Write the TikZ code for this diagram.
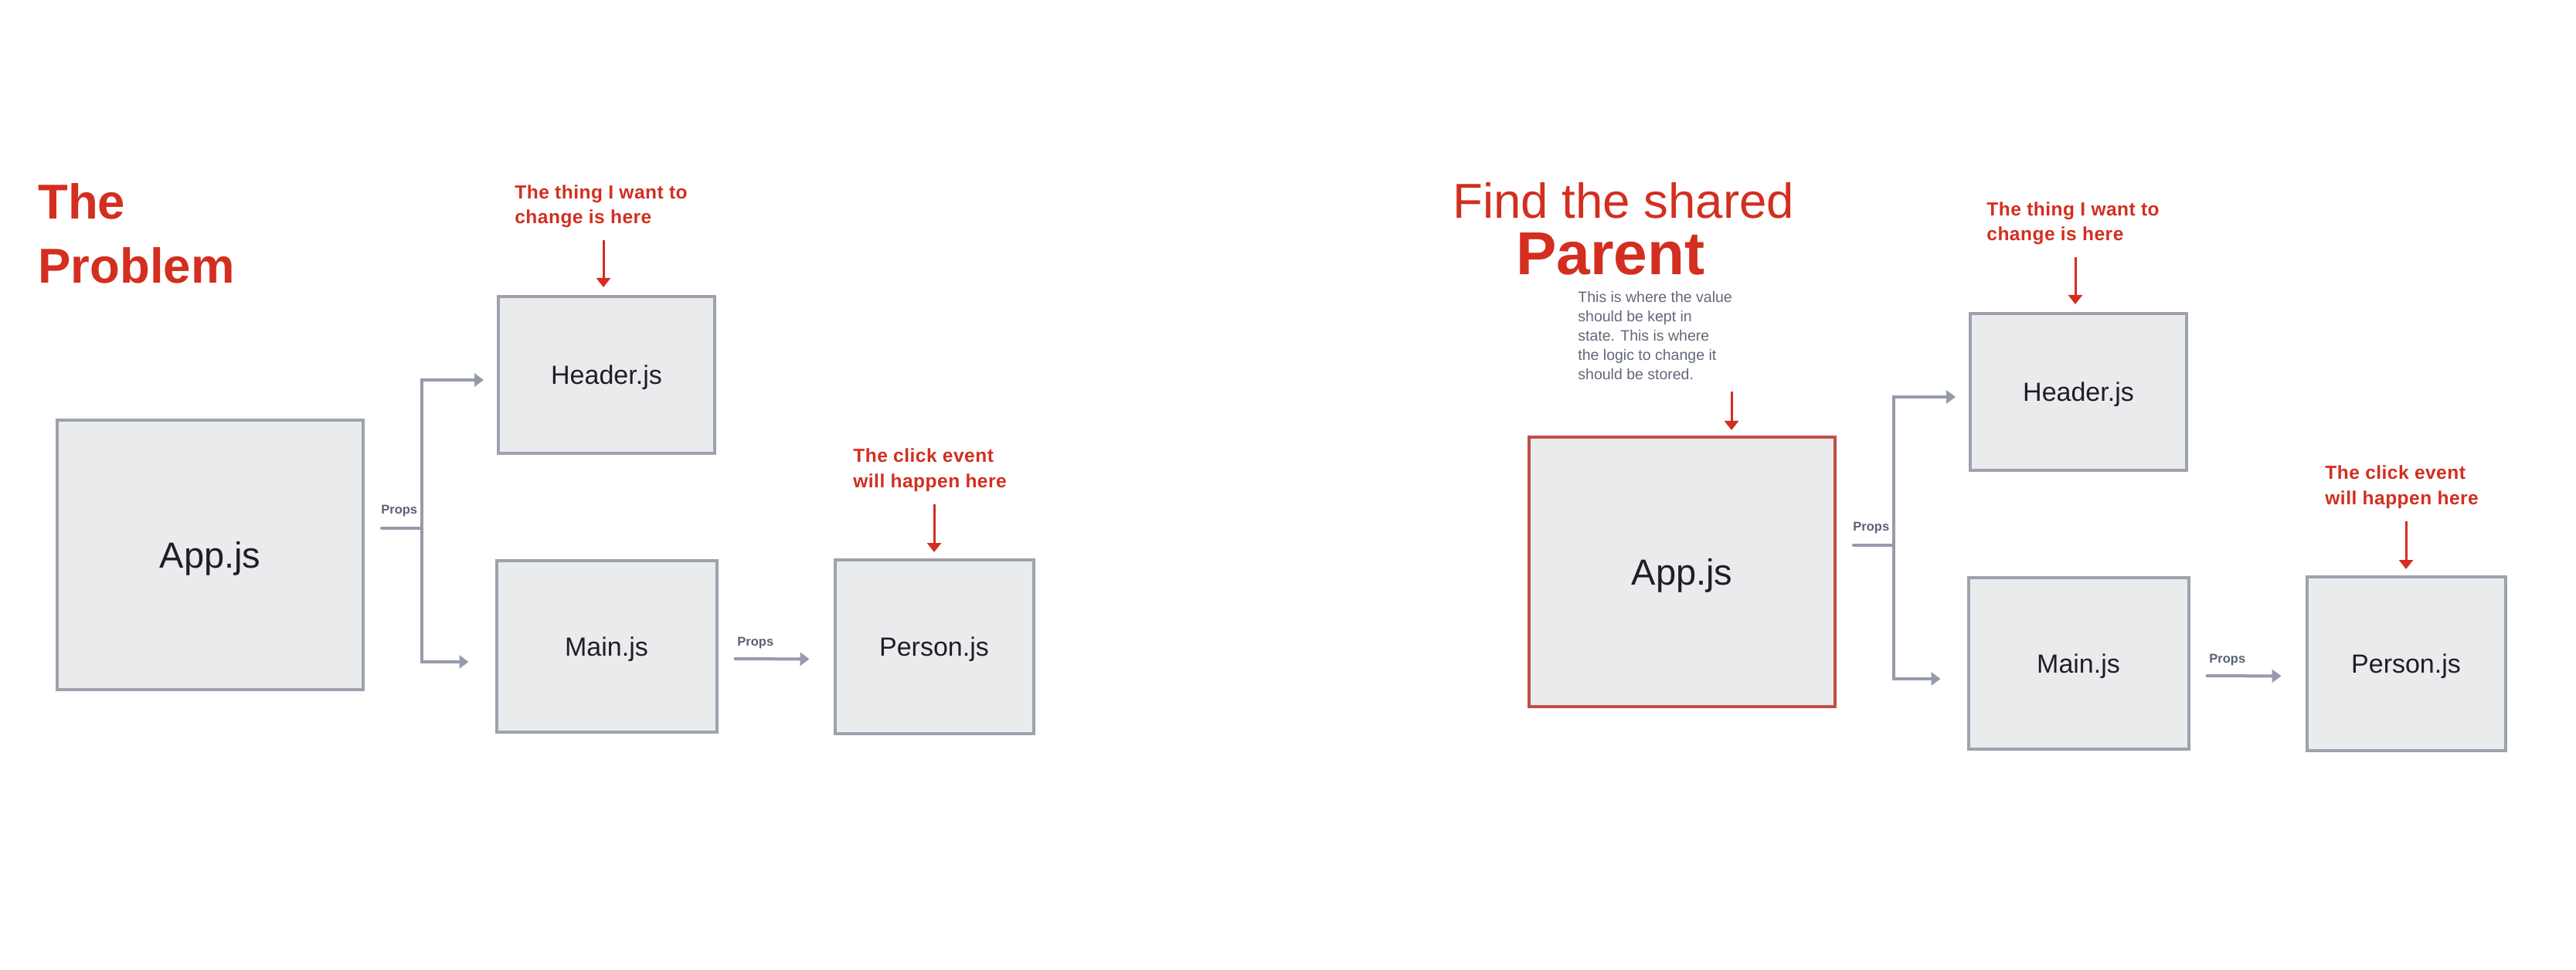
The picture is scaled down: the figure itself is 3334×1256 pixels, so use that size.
\documentclass[tikz,border=0pt]{standalone}
\usepackage{fontspec}
\setmainfont{Liberation Sans}
\newfontfamily\notefont[LetterSpace=2.0]{Liberation Sans}
\usetikzlibrary{arrows.meta}
\definecolor{annred}{RGB}{211,46,31}
\definecolor{appred}{RGB}{190,78,74}
\definecolor{boxfill}{RGB}{234,235,237}
\definecolor{boxborder}{RGB}{158,162,174}
\definecolor{conn}{RGB}{150,155,170}
\definecolor{labeltext}{RGB}{30,31,36}
\definecolor{propstext}{RGB}{90,97,118}
\definecolor{smalltext}{RGB}{97,104,121}
\tikzset{
  box/.style={draw=boxborder, fill=boxfill, line width=2pt, inner sep=0pt,
    text=labeltext, font=\fontsize{17pt}{20pt}\selectfont, text height=12.2pt, text depth=0pt},
  bigbox/.style={box, font=\fontsize{23.5pt}{28pt}\selectfont, text height=16.8pt},
  redbox/.style={bigbox, draw=appred},
  gline/.style={draw=conn, line width=2pt, line cap=round},
  garrow/.style={gline, -{Triangle[length=6pt,width=8.5pt]}},
  rarrow/.style={draw=annred, line width=1.5pt, -{Triangle[length=6pt,width=9pt]}},
  note/.style={text=annred, font=\notefont\bfseries\fontsize{12.25pt}{16pt}\selectfont, align=left, inner sep=0pt, anchor=north west},
  note2/.style={note, font=\notefont\bfseries\fontsize{12.25pt}{16.5pt}\selectfont},
  propslbl/.style={text=propstext, font=\bfseries\fontsize{8.25pt}{10pt}\selectfont, inner sep=0pt, anchor=base west},
  titlebold/.style={text=annred, font=\bfseries\fontsize{31.75pt}{41.5pt}\selectfont, align=left, inner sep=0pt},
}
\begin{document}
\begin{tikzpicture}[x=0.5pt, y=-0.5pt]
\useasboundingbox (0,0) rectangle (3334,1256);
\fill[white] (0,0) rectangle (3334,1256);

% ---------------- Left: The Problem ----------------
\node[titlebold, anchor=north west] (ttl) at (49,237.5) {The\\Problem};

\node[bigbox, minimum width=198pt, minimum height=174.5pt] (lapp) at (272,718.5) {App.js};
\node[box, minimum width=140pt, minimum height=101.5pt] (lhead) at (785,485.5) {Header.js};
\node[box, minimum width=142.5pt, minimum height=111pt] (lmain) at (785,837) {Main.js};
\node[box, minimum width=128.5pt, minimum height=112.5pt] (lpers) at (1209,837.5) {Person.js};

\coordinate (lJ) at (546,684);
\draw[gline, shorten <=11pt] ([yshift=17.25pt]lapp.east) -- (lJ);
\draw[garrow, shorten >=8.5pt] (lJ) |- ([yshift=-3.25pt]lhead.west);
\draw[garrow, shorten >=17pt] (lJ) |- ([yshift=-10pt]lmain.west);
\node[propslbl] (lprops1) at (493,665) {Props};
\draw[garrow, shorten <=11pt, shorten >=15.5pt] ([yshift=-8pt]lmain.east) -- ([yshift=-8pt]lpers.west);
\node[propslbl] (lprops2) at (954,836) {Props};

\node[note] (lnote1) at (666,239.5) {The thing I want to\\change is here};
\coordinate (lR1) at (781,311);
\draw[rarrow, shorten >=5pt] (lR1) -- (lR1 |- lhead.north);
\node[note2] (lnote2) at (1104,580.5) {The click event\\will happen here};
\coordinate (lR2) at (1209,653);
\draw[rarrow, shorten >=4pt] (lR2) -- (lR2 |- lpers.north);

% ---------------- Right: Find the shared Parent ----------------
\node[text=annred, font=\fontsize{31.8pt}{38pt}\selectfont, inner sep=0pt, anchor=base west] (rt1) at (1880,283) {Find the shared};
\node[text=annred, font=\bfseries\fontsize{39.25pt}{46pt}\selectfont, inner sep=0pt, anchor=base west] (rt2) at (1962,356) {Parent};
\node[text=smalltext, font=\fontsize{9.75pt}{12.5pt}\selectfont, align=left, inner sep=0pt, anchor=north west] (rsmall) at (2042,377)
  {This is where the value\\should be kept in\\state. This is where\\the logic to change it\\should be stored.};

\node[redbox, minimum width=198pt, minimum height=174.5pt] (rapp) at (2177,740.5) {App.js};
\node[box, minimum width=140pt, minimum height=101.5pt] (rhead) at (2690,507.5) {Header.js};
\node[box, minimum width=142.5pt, minimum height=111pt] (rmain) at (2690,859) {Main.js};
\node[box, minimum width=128.5pt, minimum height=112.5pt] (rpers) at (3114,859.5) {Person.js};

\coordinate (rJ) at (2451,706);
\draw[gline, shorten <=11pt] ([yshift=17.25pt]rapp.east) -- (rJ);
\draw[garrow, shorten >=8.5pt] (rJ) |- ([yshift=-3.25pt]rhead.west);
\draw[garrow, shorten >=17pt] (rJ) |- ([yshift=-10pt]rmain.west);
\node[propslbl] (rprops1) at (2398,687) {Props};
\draw[garrow, shorten <=11pt, shorten >=15.5pt] ([yshift=-8pt]rmain.east) -- ([yshift=-8pt]rpers.west);
\node[propslbl] (rprops2) at (2859,858) {Props};

\coordinate (rR0) at (2241,507);
\draw[rarrow, shorten >=3.5pt] (rR0) -- (rR0 |- rapp.north);
\node[note] (rnote1) at (2571,261.5) {The thing I want to\\change is here};
\coordinate (rR1) at (2686,333);
\draw[rarrow, shorten >=5pt] (rR1) -- (rR1 |- rhead.north);
\node[note2] (rnote2) at (3009,602.5) {The click event\\will happen here};
\coordinate (rR2) at (3114,675);
\draw[rarrow, shorten >=4pt] (rR2) -- (rR2 |- rpers.north);
\end{tikzpicture}
\end{document}
